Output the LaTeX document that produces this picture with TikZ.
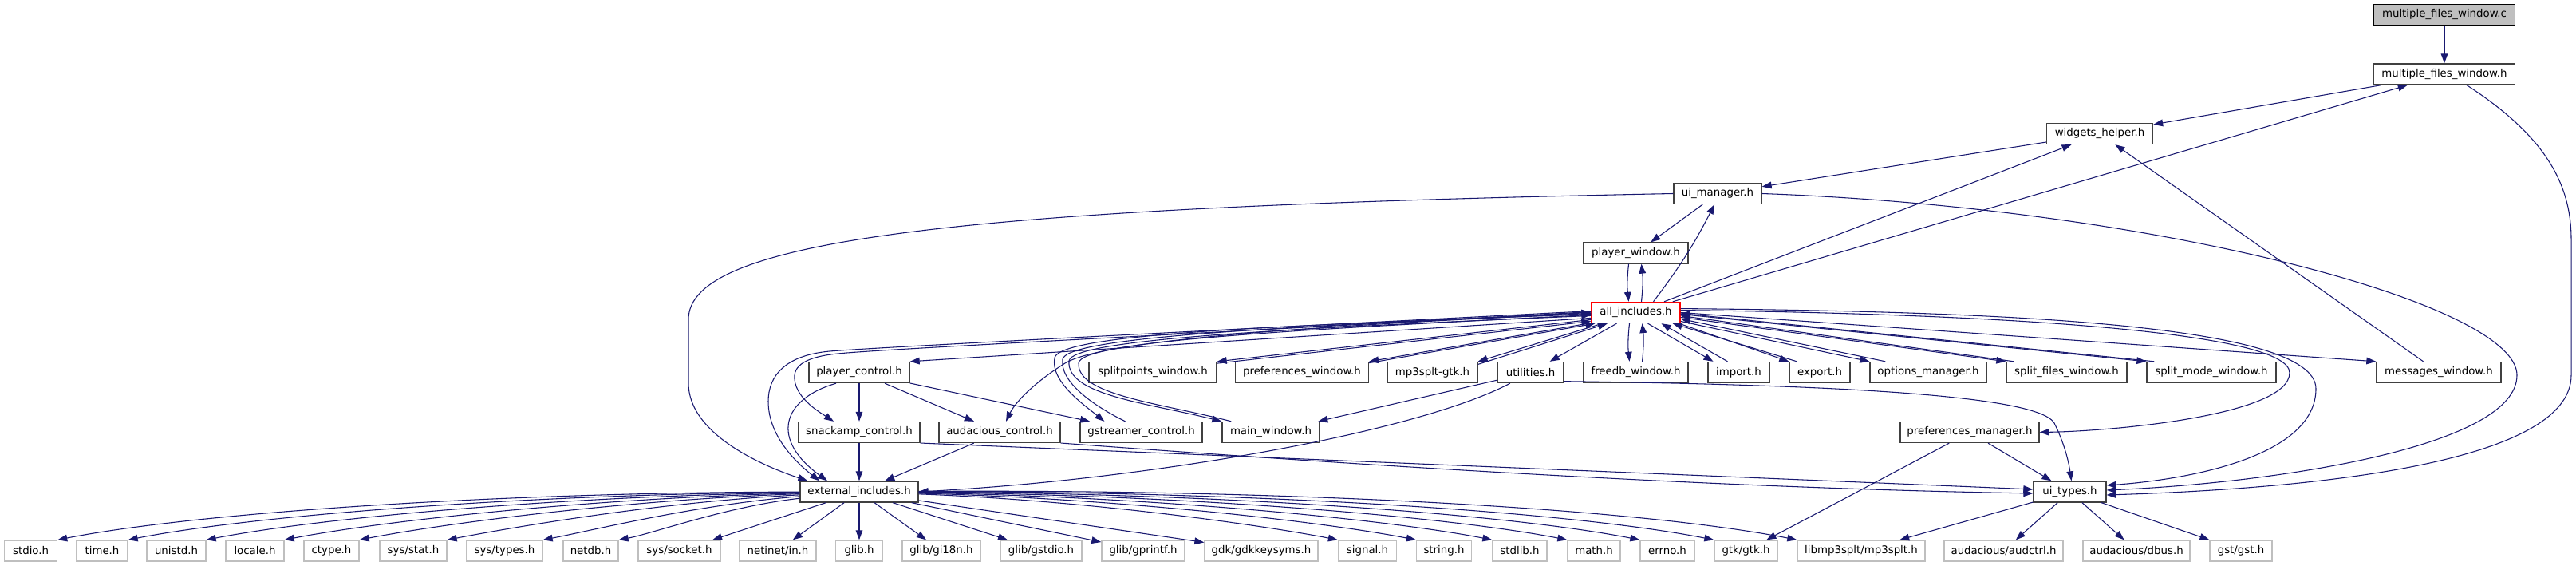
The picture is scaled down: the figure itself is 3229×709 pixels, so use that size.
\documentclass[tikz,border=0pt]{standalone}
\usepackage{fontspec}
\setmainfont{DejaVu Sans}
\usetikzlibrary{arrows.meta,calc}
\definecolor{edgeblue}{HTML}{191970}
\definecolor{sysgray}{HTML}{BFBFBF}
\definecolor{boxgray}{HTML}{404040}

\begin{document}
\begin{tikzpicture}[x=0.75pt,y=-0.75pt,font=\fontsize{10}{12}\selectfont,
 hdr/.style={draw=boxgray,line width=1pt,fill=white,minimum width=#1*0.75pt,minimum height=19.5pt,inner sep=0pt},
 sys/.style={hdr=#1,draw=sysgray},
 dep/.style={draw=edgeblue,line width=0.8pt,-{Triangle[length=9pt,width=6.5pt]}}]
 \fill[white] (0,0) rectangle (3229,709);
 \useasboundingbox (0,0) rectangle (3229,709);
 \node[hdr=177,fill=sysgray,draw=black] (mfwc) at (3064,18.5) {multiple\_files\_window.c};
 \node[hdr=177] (mfwh) at (3064,93) {multiple\_files\_window.h};
 \node[hdr=133] (wh) at (2632,167.5) {widgets\_helper.h};
 \node[hdr=110] (uim) at (2153,242.5) {ui\_manager.h};
 \node[hdr=131] (pw) at (2050.5,317) {player\_window.h};
 \node[hdr=111,draw=red] (ai) at (2050.5,391.5) {all\_includes.h};
 \node[hdr=126] (pc) at (1077,466.5) {player\_control.h};
 \node[hdr=160] (spw) at (1445,466.5) {splitpoints\_window.h};
 \node[hdr=167] (prw) at (1632,466.5) {preferences\_window.h};
 \node[hdr=113] (mpg) at (1795.5,466.5) {mp3splt-gtk.h};
 \node[hdr=82] (util) at (1918.6,466.5) {utilities.h};
 \node[hdr=131] (fdb) at (2050.5,466.5) {freedb\_window.h};
 \node[hdr=77] (imp) at (2179.5,466.5) {import.h};
 \node[hdr=76] (exp) at (2281,466.5) {export.h};
 \node[hdr=146] (opt) at (2417,466.5) {options\_manager.h};
 \node[hdr=151] (sfw) at (2590.5,466.5) {split\_files\_window.h};
 \node[hdr=162] (smw) at (2772,466.5) {split\_mode\_window.h};
 \node[hdr=156] (msg) at (3057,466.5) {messages\_window.h};
 \node[hdr=152] (snk) at (1077,541.5) {snackamp\_control.h};
 \node[hdr=152] (aud) at (1253,541.5) {audacious\_control.h};
 \node[hdr=153] (gstc) at (1430.5,541.5) {gstreamer\_control.h};
 \node[hdr=122] (mw) at (1593,541.5) {main\_window.h};
 \node[hdr=174] (prm) at (2469,541.5) {preferences\_manager.h};
 \node[hdr=148] (ext) at (1077,616) {external\_includes.h};
 \node[hdr=91] (uit) at (2594.5,616) {ui\_types.h};
 \foreach \n/\x/\w/\t in {stdio/38.6/66/stdio.h,time/128/64/time.h,unistd/221/74/unistd.h,
   locale/319.5/73/locale.h,ctype/415.5/69/ctype.h,sstat/518/84/{sys/stat.h},
   stypes/632.5/95/{sys/types.h},netdb/740.5/69/netdb.h,ssocket/851.5/103/{sys/socket.h},
   netinet/975/96/{netinet/in.h},glib/1077/59/glib.h,gi18n/1180/98/{glib/gi18n.h},
   gstdio/1305/102/{glib/gstdio.h},gprintf/1433/104/{glib/gprintf.h},
   gdkkeys/1581/142/{gdk/gdkkeysyms.h},signal/1714/73/signal.h,string/1810/69/string.h,
   stdlib/1905/68/stdlib.h,math/1998/66/math.h,errno/2090/68/errno.h,gtk/2188.5/79/{gtk/gtk.h},
   libmp/2333/160/{libmp3splt/mp3splt.h},audctrl/2511.5/149/{audacious/audctrl.h},
   dbus/2678/134/{audacious/dbus.h},gsth/2809/78/{gst/gst.h}}
   \node[sys=\w] (\n) at (\x,690) {\t};

 \draw[dep] (mfwc) -- (mfwh);
 \draw[dep] (mfwh) -- (wh);
 \draw[dep] ($(mfwh.south)+(28,0)$) .. controls (3190,170) and (3223,230) .. (3223,300) -- (3223,470) .. controls (3223,580) and (2900,612) .. ($(uit.east)+(0,4)$);
 \draw[dep] (wh) -- (uim);
 \draw[dep] (uim) -- (pw);
 \draw[dep] (uim.west) .. controls (1200,260) and (863,300) .. (863,400) -- (863,480) .. controls (863,545) and (960,585) .. ($(ext.north west)+(10,0)$);
 \draw[dep] (uim.east) .. controls (2700,260) and (3155,380) .. (3155,470) .. controls (3155,560) and (2850,605) .. ($(uit.east)+(0,-2)$);
 \draw[dep] ($(pw.south)+(-9,0)$) to[bend right=6] ($(ai.north)+(-9,0)$);
 \draw[dep] ($(ai.north)+(7,0)$) to[bend right=6] ($(pw.south)+(7,0)$);
 \draw[dep] ($(ai.north)+(22,0)$) to[bend right=5] ($(uim.south)+(-4,0)$);
 \draw[dep] (ai) -- (wh);
 \draw[dep] (ai) -- (mfwh);
 \draw[dep] (msg) -- (wh);
 \draw[dep] (ai.east) -- (msg.north west);
 \draw[dep] (ai.3) .. controls (2500,393) and (2870,415) .. (2870,467) .. controls (2870,520) and (2650,540) .. (prm.east);
 \draw[dep] (ai.5) .. controls (2500,390) and (2903,405) .. (2903,487) .. controls (2903,570) and (2750,600) .. ($(uit.east)+(0,-8)$);
 \draw[dep] ($(ai.south)+(-8,0)$) to[bend right=6] ($(fdb.north)+(-8,0)$);
 \draw[dep] ($(fdb.north)+(8,0)$) to[bend right=6] ($(ai.south)+(8,0)$);
 \draw[dep] ($(ai.south)+(15,0)$) -- ($(imp.north)+(-32,0)$);
 \draw[dep] ($(imp.north)+(-14,0)$) -- ($(ai.south)+(32,0)$);
 \draw[dep] ($(ai.south east)+(-2,0)$) -- (exp.north west);
 \draw[dep] ($(exp.north west)+(10,0)$) -- ($(ai.south east)+(-10,0)$);
 \draw[dep] (ai.-11) -- (opt.north west);
 \draw[dep] ($(opt.north west)+(20,0)$) -- (ai.-8);
 \draw[dep] (ai.-6) -- (sfw.north west);
 \draw[dep] ($(sfw.north west)+(10,0)$) -- (ai.-4);
 \draw[dep] (ai.-2) -- (smw.north west);
 \draw[dep] ($(smw.north west)+(10,0)$) -- (ai.-1);
 \draw[dep] (ai) -- (util);
 \draw[dep] (ai.187) -- (pc.north east);
 \draw[dep] (ai.189) -- (spw.north east);
 \draw[dep] (spw.8) -- (ai.191);
 \draw[dep] (ai.193) -- (prw.north east);
 \draw[dep] (prw.8) -- (ai.195);
 \draw[dep] (ai.198) -- (mpg.north east);
 \draw[dep] (mpg.10) -- (ai.201);
 \draw[dep] (ai.178) .. controls (1500,415) and (1100,435) .. (1040,440) .. controls (985,445) and (963,470) .. (963,503) .. controls (963,550) and (1005,585) .. ($(ext.north west)+(25,0)$);
 \draw[dep] (ai.179) .. controls (1500,418) and (1110,437) .. (1050,443) .. controls (1010,447) and (994,458) .. (996,475) .. controls (998,500) and (1030,518) .. ($(snk.north)+(-32,0)$);
 \draw[dep] (ai.181) .. controls (1600,410) and (1380,428) .. (1335,455) .. controls (1295,480) and (1272,505) .. ($(aud.north)+(8,0)$);
 \draw[dep] (ai.182) .. controls (1600,408) and (1330,418) .. (1322,448) .. controls (1316,478) and (1360,508) .. ($(gstc.north west)+(31,0)$);
 \draw[dep] ($(gstc.north)+(-20,0)$) .. controls (1370,508) and (1328,478) .. (1332,450) .. controls (1338,422) and (1600,410) .. (ai.180);
 \draw[dep] (ai.184) .. controls (1600,412) and (1345,425) .. (1340,452) .. controls (1336,495) and (1440,505) .. (mw.north west);
 \draw[dep] ($(mw.north west)+(12,0)$) .. controls (1455,505) and (1350,495) .. (1352,455) .. controls (1354,428) and (1600,414) .. (ai.183);
 \draw[dep] (pc) -- (snk);
 \draw[dep] (pc) -- (aud);
 \draw[dep] (pc) -- (gstc);
 \draw[dep] ($(pc.south)+(-29,0)$) .. controls (980,500) and (965,550) .. ($(ext.north)+(-40,0)$);
 \draw[dep] (snk) -- (ext);
 \draw[dep] (aud) -- (ext);
 \draw[dep] (snk.-10) -- ($(uit.west)+(0,-3)$);
 \draw[dep] (aud.-10) .. controls (1800,590) and (2200,612) .. ($(uit.west)+(0,2)$);
 \draw[dep] (util) -- (mw);
 \draw[dep] (util) .. controls (1780,540) and (1450,600) .. (ext.east);
 \draw[dep] (util.-15) .. controls (2300,482) and (2555,495) .. (2575,530) .. controls (2590,560) and (2594,585) .. ($(uit.north)+(2,0)$);
 \draw[dep] (prm) -- (uit);
 \draw[dep] (prm) -- (gtk);
 \foreach \t in {libmp,audctrl,dbus,gsth} \draw[dep] (uit) -- (\t);
 \foreach \t/\xe in {stdio/71.6,time/160,unistd/258,locale/356,ctype/450,sstat/560.5,stypes/680,netdb/775}
   \draw[dep] (ext) .. controls ({\xe+0.6*(1002-\xe)},{640-0.025*(1002-\xe)}) and ({\xe+0.19*(1002-\xe)},{677-0.038*(1002-\xe)}) .. (\t.north east);
 \foreach \t in {ssocket,netinet,glib,gi18n,gstdio,gprintf,gdkkeys} \draw[dep] (ext) -- (\t);
 \foreach \t/\xe in {signal/1677.7,string/1776,stdlib/1870.6,math/1965,errno/2056,gtk/2149,libmp/2253}
   \draw[dep] (ext) .. controls ({\xe-0.6*(\xe-1152)},{640-0.025*(\xe-1152)}) and ({\xe-0.19*(\xe-1152)},{677-0.038*(\xe-1152)}) .. (\t.north west);
\end{tikzpicture}
\end{document}
